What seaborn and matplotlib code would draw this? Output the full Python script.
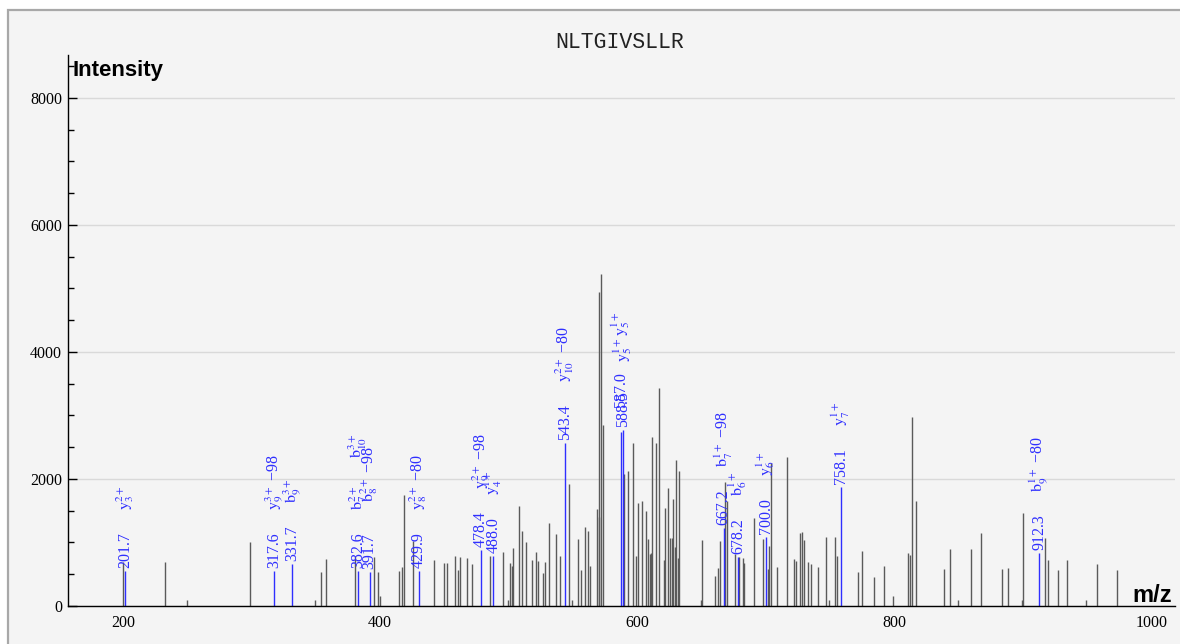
import matplotlib
matplotlib.use("Agg")
import matplotlib.pyplot as plt
import seaborn as sns
import numpy as np
from matplotlib.patches import Rectangle
from matplotlib.ticker import MultipleLocator

# ---------------- data ----------------
peptide = "NLTGIVSLLR"

# unannotated peaks (m/z, intensity)
peak_mz = [200.0, 232.7, 249.8, 298.6, 349.6, 354.3, 358.2, 380.2, 395.5, 398.6,
           399.7, 414.5, 417.3, 418.4, 425.8, 441.7, 449.3, 452.3, 458.4, 460.2,
           462.4, 467.1, 471.5, 485.5, 495.3, 499.2, 501.3, 502.4, 503.4, 507.8,
           510.4, 513.5, 518.4, 520.8, 522.6, 526.2, 528.5, 531.6, 536.3, 539.7,
           546.7, 549.5, 553.7, 556.0, 558.9, 561.2, 563.0, 568.2, 569.8, 570.5,
           571.6, 573.6, 589.8, 592.3, 596.5, 599.1, 600.4, 603.2, 606.3, 608.1,
           609.4, 610.2, 611.5, 614.4, 616.4, 620.3, 621.4, 623.4, 625.3, 626.5,
           627.3, 628.9, 630.0, 631.5, 632.5, 649.4, 649.9, 660.2, 662.5, 664.0,
           667.8, 669.5, 675.6, 678.8, 681.8, 682.8, 690.3, 697.9, 701.2, 702.3,
           704.1, 708.2, 716.3, 721.5, 723.0, 726.1, 727.9, 729.2, 732.3, 735.2,
           740.4, 746.3, 749.2, 753.6, 755.2, 771.5, 774.9, 783.7, 792.0, 799.0,
           810.4, 812.2, 813.2, 816.4, 838.4, 843.3, 849.0, 859.7, 867.2, 883.5,
           888.2, 899.1, 900.1, 916.7, 919.6, 927.3, 934.3, 949.1, 957.4, 973.0]
peak_int = [700, 690, 95, 1000, 95, 530, 745, 780, 770, 530,
            157, 550, 620, 1750, 1030, 724, 680, 680, 787, 567,
            766, 750, 656, 787, 845, 94, 672, 635, 908, 1575,
            1181, 1008, 724, 855, 709, 514, 693, 1312, 1129, 787,
            1916, 94, 1055, 567, 1244, 1181, 635, 1530, 1407, 4950,
            5224, 2850, 2074, 2126, 2572, 787, 1627, 1654, 1496, 1055,
            814, 840, 2656, 2572, 3428, 724, 1549, 1853, 1066, 1066,
            1685, 934, 2294, 750, 2131, 94, 1039, 472, 604, 1024,
            1958, 1660, 814, 777, 750, 672, 1391, 1050, 583, 950,
            2250, 609, 2341, 740, 709, 1155, 1160, 1039, 698, 656,
            619, 1092, 94, 1092, 787, 541, 866, 462, 630, 157,
            830, 803, 2981, 1659, 577, 892, 94, 892, 1150, 583,
            598, 94, 1470, 1066, 719, 572, 719, 94, 656, 567]

# annotated (matched) fragment ions
ion_mz = [201.7, 317.6, 331.7, 382.6, 391.7, 429.9, 478.4, 488.0, 543.4,
          587.0, 588.5, 667.2, 678.2, 700.0, 758.1, 912.3]
ion_int = [556, 551, 661, 551, 541, 556, 882, 787, 2572,
           2745, 2770, 1223, 777, 1092, 1879, 830]
ion_labels = [[r"$\mathrm{y}_{3}^{2+}$"],
              [r"$\mathrm{y}_{9}^{3+}$ −98"],
              [r"$\mathrm{b}_{9}^{3+}$"],
              [r"$\mathrm{b}_{7}^{2+}$", r"$\mathrm{b}_{10}^{3+}$"],
              [r"$\mathrm{b}_{8}^{2+}$ −98"],
              [r"$\mathrm{y}_{8}^{2+}$ −80"],
              [r"$\mathrm{y}_{9}^{2+}$ −98"],
              [r"$\mathrm{y}_{4}^{1+}$"],
              [r"$\mathrm{y}_{10}^{2+}$ −80"],
              [r"$\mathrm{y}_{5}^{1+}$"],
              [r"$\mathrm{y}_{5}^{1+}$"],
              [r"$\mathrm{b}_{7}^{1+}$ −98"],
              [r"$\mathrm{b}_{6}^{1+}$"],
              [r"$\mathrm{y}_{6}^{1+}$"],
              [r"$\mathrm{y}_{7}^{1+}$"],
              [r"$\mathrm{b}_{9}^{1+}$ −80"]]

# ---------------- layout / style ----------------
W, H = 1180, 644
BLUE = "#2f2fff"
GRAY = "#5a5a5a"
num_offset = {587.0: 21}
lab_offset = {382.6: [61, 113], 391.7: [70], 587.0: [96], 588.5: [68]}

sns.set_theme(style="white")
plt.rcParams["font.family"] = ["Liberation Serif", "DejaVu Serif"]
plt.rcParams["mathtext.fontset"] = "stix"

fig = plt.figure(figsize=(W / 100, H / 100), dpi=100, facecolor="white")
fig.patches.append(Rectangle((8 / W, -0.1), 1.2, 1 - 10 / H + 0.1,
                             transform=fig.transFigure, facecolor="#f4f4f4",
                             edgecolor="#a8a8a8", lw=1.6, zorder=-10))

ax = fig.add_axes([67.7 / W, 38 / H, (1175 - 67.7) / W, (606 - 55) / H])
ax.set_facecolor("none")
ax.set_xlim(157, 1018)
ax.set_ylim(0, 8677)

ax.yaxis.set_major_locator(MultipleLocator(2000))
ax.yaxis.set_minor_locator(MultipleLocator(500))
ax.xaxis.set_major_locator(MultipleLocator(200))
ax.grid(axis="y", which="major", color="#d9d9d9", lw=1)
ax.set_axisbelow(True)

ax.vlines(peak_mz, 0, peak_int, color=GRAY, lw=1.0)
ax.vlines(ion_mz, 0, ion_int, color=BLUE, lw=1.0)

for mz, it, labs in zip(ion_mz, ion_int, ion_labels):
    ax.annotate(f"{mz:.1f}", xy=(mz, it), xytext=(0, 3 + num_offset.get(mz, 0)),
                textcoords="offset pixels", rotation=90, ha="center", va="bottom",
                color=BLUE, fontsize=11.5)
    offs = lab_offset.get(mz, [61] * len(labs))
    for lab, off in zip(labs, offs):
        ax.annotate(lab, xy=(mz, it), xytext=(0, off), textcoords="offset pixels",
                    rotation=90, ha="center", va="bottom", color=BLUE, fontsize=11.5)

sns.despine(ax=ax)
for s in ("left", "bottom"):
    ax.spines[s].set_color("black")
    ax.spines[s].set_linewidth(1.0)

ax.tick_params(axis="y", which="major", direction="in", length=6.5, width=1,
               color="black", labelsize=11.5, pad=4, left=True)
ax.tick_params(axis="y", which="minor", direction="in", length=4.5, width=1,
               color="black", left=True)
ax.tick_params(axis="x", length=0, labelsize=11.5, pad=6.5)
for lbl in ax.get_xticklabels() + ax.get_yticklabels():
    lbl.set_color("black")

fig.text(620 / W, 1 - 48 / H, peptide, family="Liberation Mono", fontsize=15.5,
         ha="center", va="baseline", color="#222222")
fig.text(73 / W, 1 - 76 / H, "Intensity", family="Liberation Sans",
         fontweight="bold", fontsize=16, ha="left", va="baseline", color="black")
fig.text(1172 / W, 1 - 602 / H, "m/z", family="Liberation Sans",
         fontweight="bold", fontsize=17, ha="right", va="baseline", color="black")

fig.savefig("out.png", dpi=100, facecolor="white")
